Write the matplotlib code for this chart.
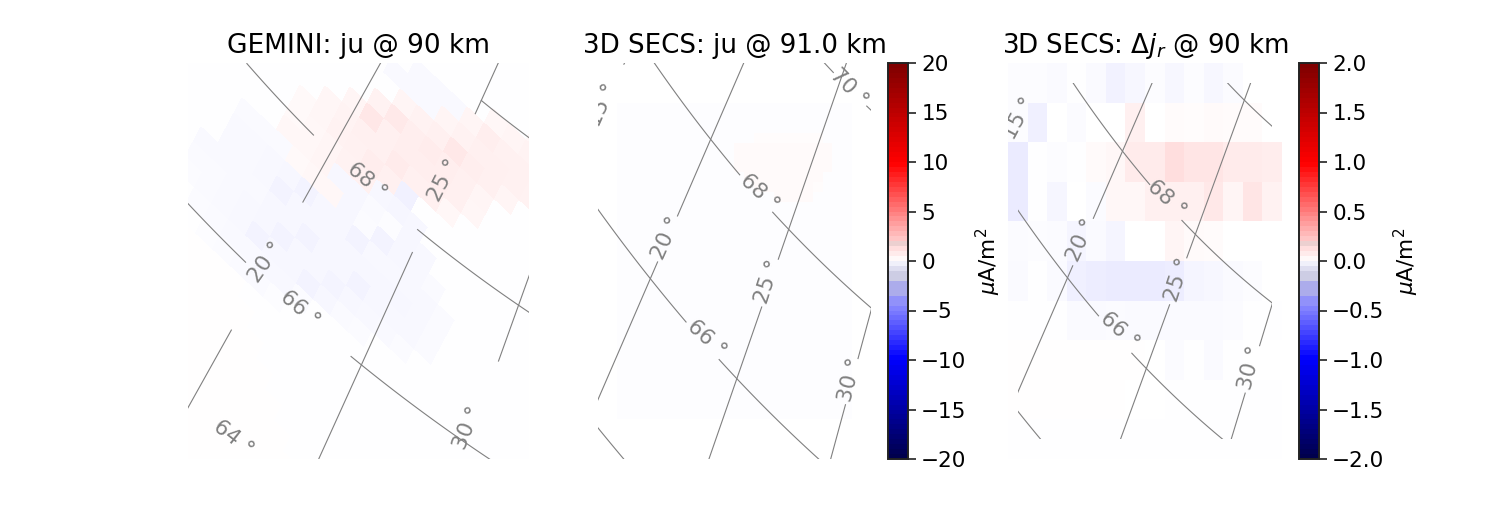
#GEMINI vs 3D SECS current comparison
import numpy as np
import matplotlib
matplotlib.use('Agg')
import matplotlib.pyplot as plt
from matplotlib.colors import ListedColormap, Normalize
from matplotlib.cm import ScalarMappable
from matplotlib.patches import Rectangle

titles = ['GEMINI: ju @ 90 km', '3D SECS: ju @ 91.0 km', r'3D SECS: $\Delta j_r$ @ 90 km']
cbar_ticks_ju = [-20, -15, -10, -5, 0, 5, 10, 15, 20]
cbar_ticks_dj = [-2.0, -1.5, -1.0, -0.5, 0.0, 0.5, 1.0, 1.5, 2.0]

# GEMINI ju, slanted model cells: row j -> (first column i, values)
gemini_rows = {
    -12: (15, [.3, .35, .4, .4, .35]),
    -11: (13, [.3, .4, .45, .45, .5, .45]),
    -10: (12, [.4, .65, .55, .55, .5, .4]),
    -9: (10, [.3, .4, .5, .58, .6, .55, .5]),
    -8: (9, [.4, .5, .6, .9, .65, .58, .4]),
    -7: (8, [.5, .85, .65, .75, .65, .58, .4]),
    -6: (7, [.4, .95, .6, .65, .65, .65, .58, .35]),
    -5: (6, [.35, .45, .58, .6, .8, .6, .58, .3]),
    -4: (5, [.25, .35, .5, .55, .7, .58, -.05, -.05, -.05]),
    -3: (5, [.25, .3, .4, .5, .55]),
    -2: (5, [.3, .3, .4]),
    -1: (6, [.25, .3, .3]),
}
gemini_blue_rows = {
    -10: (9, [-.22, -.22, -.22]),
    -9: (8, [-.22, -.22, -.22]),
    -4: (11, [-.55]),
    -3: (10, [-.33, -.36, -.33]),
    -2: (8, [-.3, -.33, -.18, -.1, -.3, -.27]),
    -1: (3, [-.2, -.2, -.2]),
    0: (3, [-.25, -.25, -.28, -.33, -.45, -.33, -.3, -.45, -.27, -.27, -.27, -.27, -.18]),
    1: (3, [-.25, -.25, -.28, -.45, -.33, -.3, -.3, -.3, -.3, -.3, -.3, -.27, -.18]),
    2: (2, [-.25, -.25, -.25, -.25, -.3, -.33, -.45, -.3, -.3, -.45, -.3, -.27, -.27, -.18]),
    3: (2, [-.2, -.2, -.25, -.27, -.3, -.45, -.3, -.3, -.42, -.3, -.27, -.22, -.15]),
    4: (2, [-.16, -.18, -.22, -.27, -.45, -.3, -.3, -.45, -.3, -.2, -.15]),
    5: (3, [-.14, -.18, -.22, -.22, -.27, -.27, -.15]),
    6: (4, [-.12, -.14, -.18, -.18, -.12]),
}
gemini_blue_east = (9, [-.3, -.14, -.45, -.3, -.27, -.18])  # row j=-1, east of the red cells
gemini_south_ends = [7, 8, 9, 10, 11, 12, 13, 14, 15, 16, 17, 18]

# 3D SECS ju, only the faint patch shows
secs_patch = [
    [0, 0, .1, .1, .1, .1, .1, .1, .1, 0],
    [.2, .2, .2, .2, .2, .2, .2, .2, .2, .2],
    [.2, .2, .2, .2, .2, .2, .2, .2, .2, .2],
    [.2, .2, .2, .2, .2, .2, .2, .2, .2, .2],
    [0, .2, .2, .2, .2, .2, .2, .2, .2, 0],
    [0, 0, .2, .2, .2, .2, .2, .2, .1, 0],
    [0, 0, 0, 0, .2, .2, .2, .2, 0, 0],
]

# delta jr on the SECS grid, top row first
dj_cells = [
    [-.01, -.01, -.02, -.005, -.02, -.05, -.03, -.01, -.03, -.01, -.03, -.015, 0, 0],
    [-.01, -.06, 0, -.015, 0, 0, .06, 0, .015, .01, .02, .015, .015, 0],
    [-.08, -.005, -.01, -.005, .02, .03, .08, .08, .13, .10, .10, .08, .08, .07],
    [-.08, -.005, -.035, 0, -.015, .03, .03, .06, .06, .06, .09, .04, .10, .05],
    [-.015, -.01, -.015, -.04, -.02, -.04, 0, 0, .04, .02, .015, 0, 0, 0],
    [-.02, -.005, -.02, -.06, -.07, -.08, -.08, -.08, -.07, -.04, -.03, -.02, -.01, 0],
    [-.005, -.005, -.005, -.02, -.02, -.015, -.02, -.02, -.02, -.02, -.02, -.015, -.005, -.005],
    [.005, .005, .005, .005, .005, .005, .003, 0, -.015, -.005, -.02, -.003, 0, 0],
    [.005, .005, .005, .003, .003, .003, 0, 0, -.003, -.003, -.003, -.003, -.003, -.003],
    [-.005, -.005, -.005, -.005, -.005, -.005, -.005, -.005, -.005, -.005, -.005, -.005, -.005, -.005],
]

# graticule crossings seen in each panel: lon, lat, x, y
cross_1 = [(20, 68, 330, 152), (20, 66, 261, 277), (20, 64, 192, 402), (25, 68, 421, 232),
           (25, 66, 360, 365), (25, 70, 483, 101), (30, 68, 517, 305), (30, 66, 470, 445)]
cross_2 = [(20, 68, 710, 139), (20, 66, 651, 279), (25, 68, 789, 230), (25, 66, 736, 378),
           (25, 70, 841, 80), (30, 68, 871, 308), (30, 66, 829, 468)]
cross_3 = [(20, 68, 1122, 152), (20, 66, 1068, 277), (25, 68, 1195, 233), (25, 66, 1146, 370),
           (25, 70, 1245, 100), (30, 68, 1272, 304), (30, 66, 1230, 444)]

# pieces of each line left after the labels were cut in
lat_1 = {68: [(15, 19.0), (24.8, 35)], 66: [(15, 19.2), (24.5, 35)], 70: [(25, 35)]}
lon_1 = {20: [(60, 65.15), (67.2, 75)], 25: [(60, 67.7), (69.8, 75)], 30: [(67.2, 75)]}
lat_2 = {68: [(15, 21.9), (24, 30)], 66: [(12, 22.1), (24, 35)], 64: [(12, 22)], 70: [(20, 24.5), (26.8, 35)]}
lon_2 = {15: [(67.6, 75)], 20: [(60, 66.24), (66.9, 75)], 25: [(60, 66.96), (67.6, 75)], 30: [(60, 66.79), (67.37, 75)]}
lat_3 = {68: [(15, 21.9), (24.1, 32)], 66: [(12, 22), (24.1, 33)], 64: [(12, 24)], 70: [(20, 35)]}
lon_3 = {15: [(67.6, 75)], 20: [(60, 66.19), (66.94, 75)], 25: [(60, 66.95), (67.65, 75)], 30: [(60, 66.73), (67.4, 75)]}

labels_1 = [('68 °', 367, 181, -40), ('66 °', 300, 309, -40), ('64 °', 233, 438, -38),
            ('20 °', 266, 262, 55), ('25 °', 444, 180, 63), ('30 °', 468, 428, 68)]
labels_2 = [('68 °', 760, 193, -42), ('66 °', 707, 339, -42), ('70 °', 849, 88, -45),
            ('15 °', 603, 105, 66), ('20 °', 667, 238, 66), ('25 °', 768, 282, 72), ('30 °', 851, 380, 76)]
labels_3 = [('68 °', 1167, 199, -42), ('66 °', 1120, 331, -42), ('15 °', 1019, 118, 62),
            ('20 °', 1082, 240, 66), ('25 °', 1178, 280, 72), ('30 °', 1251, 368, 76)]


def fit_map(cross):
    # small polynomial from lon/lat to picture position
    c = np.array(cross, dtype=float)
    A = np.column_stack([np.ones(len(c)), c[:, 0], c[:, 1], c[:, 0] * c[:, 1], c[:, 0] ** 2])
    cx = np.linalg.lstsq(A, c[:, 2], rcond=None)[0]
    cy = np.linalg.lstsq(A, c[:, 3], rcond=None)[0]

    def project(lon, lat):
        B = np.column_stack([np.ones(len(lon)), lon, lat, lon * lat, lon ** 2])
        return B @ cx, B @ cy
    return project


def draw_grid(ax, cross, lats, lons, labels, clip=None):
    project = fit_map(cross)
    lines = []
    for lat, pieces in lats.items():
        for a, b in pieces:
            lon = np.linspace(a, b, 60)
            lines.append(project(lon, np.full(60, lat)))
    for lon0, pieces in lons.items():
        for a, b in pieces:
            lat = np.linspace(a, b, 60)
            lines.append(project(np.full(60, lon0), lat))
    for x, y in lines:
        ln, = ax.plot(x, y, color='gray', lw=0.8)
        if clip is not None:
            ln.set_clip_path(clip)
    for txt, x, y, rot in labels:
        ax.text(x, y, txt, color='gray', fontsize=15.5, rotation=rot, ha='center', va='center',
                rotation_mode='anchor', clip_on=True)


def panel(x0, x1, y0=63, y1=459):
    ax = fig.add_axes([x0 / 1500, 1 - y1 / 525, (x1 - x0) / 1500, (y1 - y0) / 525])
    ax.set_xlim(x0, x1)
    ax.set_ylim(y1, y0)
    ax.axis('off')
    return ax


def add_cbar(x0, vmax, ticks):
    cax = fig.add_axes([x0 / 1500, 1 - 459 / 525, 20.5 / 1500, 396 / 525])
    cb = fig.colorbar(ScalarMappable(Normalize(-vmax, vmax), bar_cmap), cax=cax)
    cb.set_ticks(ticks)
    cb.ax.tick_params(labelsize=15.5, length=6, width=1.2, color='#222222')
    cb.outline.set_linewidth(1.4)
    cb.outline.set_edgecolor('#222222')
    cb.set_label(r'$\mu$A/m$^2$', fontsize=15.5, labelpad=5)


# colourbar has visible bands and a washed out step just under zero
base = plt.get_cmap('seismic', 80)
bands = base(np.arange(80))
for k, col in {39: (240, 240, 250), 38: (222, 222, 240), 37: (205, 205, 228), 36: (205, 205, 228),
               35: (172, 172, 235), 34: (172, 172, 235), 33: (172, 172, 235),
               32: (145, 145, 250), 31: (145, 145, 250), 30: (130, 130, 255),
               41: (255, 235, 235), 42: (255, 222, 222), 43: (236, 208, 208)}.items():
    bands[k, :3] = np.array(col) / 255
bar_cmap = ListedColormap(bands)

# fine version for the pale fields, 256 levels would posterize them
fine_cmap = plt.get_cmap('seismic', 4096)

fig = plt.figure(figsize=(15, 5.25), dpi=100)

# panel 1
ax1 = panel(188, 529)
n_i, n_j = 30, 40
vals = np.full((n_j, n_i), -0.04)
for j, end in enumerate(gemini_south_ends):
    vals[j + 7 + 16, :end + 4] = 0.03
for rows in (gemini_rows, gemini_blue_rows):
    for j, (start, v) in rows.items():
        vals[j + 16, start + 4:start + 4 + len(v)] = v
vals[-1 + 16, gemini_blue_east[0] + 4:gemini_blue_east[0] + 4 + len(gemini_blue_east[1])] = gemini_blue_east[1]
ii, jj = np.meshgrid(np.arange(n_i + 1) - 4, np.arange(n_j + 1) - 16)
ax1.pcolormesh(182.5 + 17 * ii - 8 * jj, 64.5 + 16 * ii + 15 * jj, vals,
               cmap=fine_cmap, vmin=-20, vmax=20, shading='flat', edgecolors='face', linewidth=0)
draw_grid(ax1, cross_1, lat_1, lon_1, labels_1)
ax1.set_title(titles[0], fontsize=19, pad=7)

# panel 2
ax2 = panel(598, 871)
n_cols, n_rows = 24, 32
vals2 = np.full((n_rows, n_cols), -0.06)
patch = np.array(secs_patch)
vals2[3:3 + patch.shape[0], 12:12 + patch.shape[1]] = np.where(patch > 0, patch, -0.06)
ax2.pcolormesh(np.linspace(617, 852, n_cols + 1), np.linspace(103, 419, n_rows + 1), vals2,
               cmap=fine_cmap, vmin=-20, vmax=20)
draw_grid(ax2, cross_2, lat_2, lon_2, labels_2)
ax2.set_title(titles[1], fontsize=18.8, pad=7)
add_cbar(887.5, 20, cbar_ticks_ju)

# panel 3
ax3 = panel(1008, 1282)
cells = np.array(dj_cells)
ax3.pcolormesh(np.linspace(1008, 1282, cells.shape[1] + 1), np.linspace(63, 459, cells.shape[0] + 1), cells,
               cmap=fine_cmap, vmin=-2, vmax=2)
box = Rectangle((1018, 83), 254, 356, transform=ax3.transData, fill=False, lw=0)
draw_grid(ax3, cross_3, lat_3, lon_3, labels_3, clip=box)
ax3.set_title(titles[2], fontsize=18.8, pad=7)
add_cbar(1298.5, 2, cbar_ticks_dj)

plt.savefig('out.png', dpi=100)
